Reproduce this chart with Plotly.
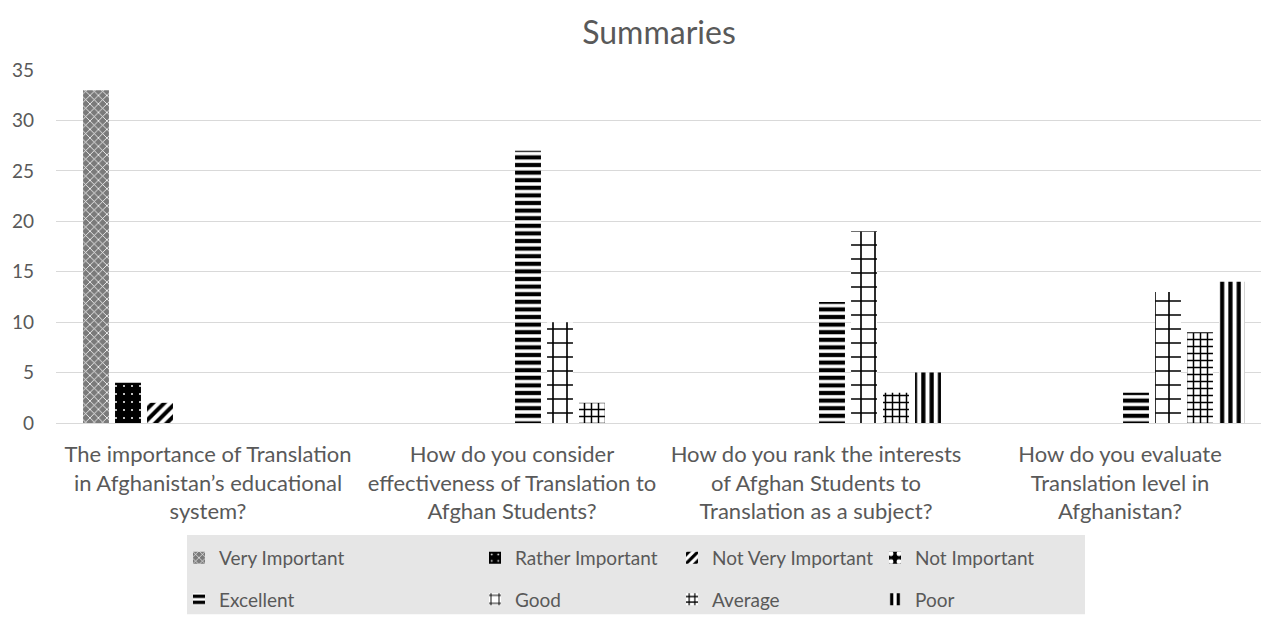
import plotly.graph_objects as go

categories = [
    "The importance of Translation<br>in Afghanistan’s educational<br>system?",
    "How do you consider<br>effectiveness of Translation to<br>Afghan Students?",
    "How do you rank the interests<br>of Afghan Students to<br>Translation as a subject?",
    "How do you evaluate<br>Translation level in<br>Afghanistan?",
]

series_names = ["Very Important", "Rather Important", "Not Very Important", "Not Important",
                "Excellent", "Good", "Average", "Poor"]

very_important = [33, 0, 0, 0]
rather_important = [4, 0, 0, 0]
not_very_important = [2, 0, 0, 0]
not_important = [0, 0, 0, 0]
excellent = [0, 27, 12, 3]
good = [0, 10, 19, 13]
average = [0, 2, 3, 9]
poor = [0, 0, 5, 14]

series_values = [very_important, rather_important, not_very_important, not_important,
                 excellent, good, average, poor]

patterns = [
    dict(shape="x", fgcolor="#ffffff", bgcolor="#7a7a7a", size=6, solidity=0.25),
    dict(shape=".", fgcolor="#ffffff", bgcolor="#000000", size=8, solidity=0.05),
    dict(shape="/", fgcolor="#000000", bgcolor="#ffffff", size=8, solidity=0.5),
    dict(shape=".", fgcolor="#ffffff", bgcolor="#000000", size=12, solidity=0.3),
    dict(shape="-", fgcolor="#000000", bgcolor="#ffffff", size=7.6, solidity=0.55),
    dict(shape="+", fgcolor="#000000", bgcolor="#ffffff", size=14, solidity=0.22),
    dict(shape="+", fgcolor="#000000", bgcolor="#ffffff", size=7, solidity=0.38),
    dict(shape="|", fgcolor="#000000", bgcolor="#ffffff", size=8.3, solidity=0.5),
]

W, H = 1261, 619
ML, MR, MT, MB = 56, 0, 70, 193
plot_w = W - ML - MR
plot_h = H - MT - MB
cat_px = 304.0
x_range = [-0.5, -0.5 + plot_w / cat_px]

# legend icon left edges (px) by column, and row centres (px)
col_px = [197, 493, 690, 893]
row_px = [562, 604]

fig = go.Figure()
for i, (name, vals, pat) in enumerate(zip(series_names, series_values, patterns)):
    leg_id = "legend" if i == 0 else f"legend{i + 1}"
    fig.add_trace(go.Bar(
        name=name, x=categories, y=vals,
        marker=dict(color=pat["bgcolor"], pattern=pat, line=dict(width=0)),
        legend=leg_id, showlegend=True,
    ))

legend_font = dict(family="Lato, 'Open Sans', sans-serif", size=19, color="#595959")
layout_legends = {}
for i in range(8):
    col = i % 4
    row = i // 4
    leg_id = "legend" if i == 0 else f"legend{i + 1}"
    layout_legends[leg_id] = dict(
        x=(col_px[col] - 18 - ML) / plot_w,
        y=(MT + plot_h - row_px[row]) / plot_h,
        xanchor="left", yanchor="middle",
        orientation="v", bgcolor="rgba(0,0,0,0)", borderwidth=0,
        font=legend_font, itemwidth=30,
    )

fig.update_layout(
    width=W, height=H,
    margin=dict(l=ML, r=MR, t=MT, b=MB),
    template="none",
    paper_bgcolor="white", plot_bgcolor="white",
    barmode="group", bargap=48 / 304, bargroupgap=0.19,
    font=dict(family="Lato, 'Open Sans', sans-serif", color="#595959"),
    title=dict(text="Summaries", x=659 / W, xref="container", xanchor="center",
               y=1 - 33 / H, yanchor="middle",
               font=dict(size=32, color="#595959")),
    xaxis=dict(range=x_range, showgrid=False, showline=False, zeroline=False,
               ticks="", tickfont=dict(size=22, color="#595959"), automargin=False,
               ticklabelstandoff=16),
    yaxis=dict(range=[0, 35], dtick=5, showgrid=True, gridcolor="#d9d9d9", gridwidth=1,
               zeroline=True, zerolinecolor="#d9d9d9", zerolinewidth=1,
               showline=False, ticks="", tickfont=dict(size=19, color="#595959"),
               automargin=False, ticklabelstandoff=21),
    shapes=[dict(type="rect", xref="paper", yref="paper",
                 x0=(187 - ML) / plot_w, x1=(1085 - ML) / plot_w,
                 y0=(MT + plot_h - 619) / plot_h, y1=(MT + plot_h - 539) / plot_h,
                 fillcolor="#e6e6e6", line=dict(width=0), layer="below")],
    **layout_legends,
)

fig.write_html("out.html")
